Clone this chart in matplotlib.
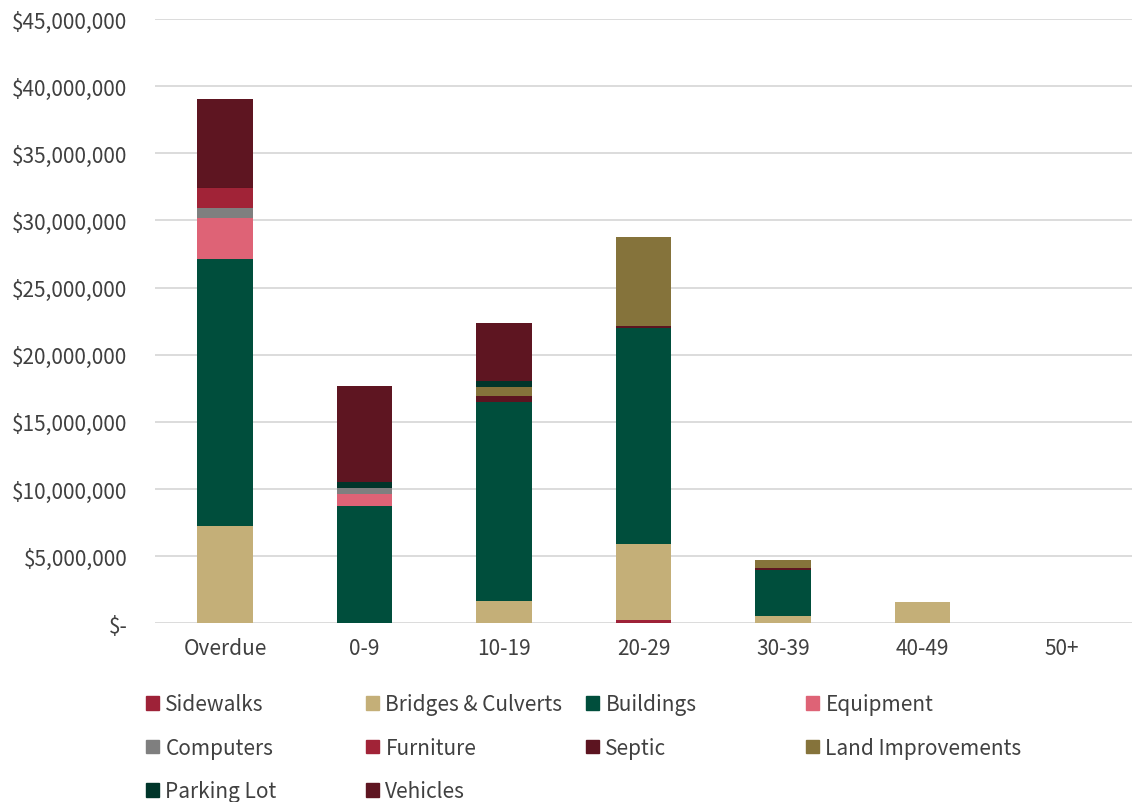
import matplotlib.pyplot as plt
from matplotlib.patches import Patch
from matplotlib.ticker import FuncFormatter
import numpy as np

plt.rcParams["font.family"] = ["Noto Sans CJK JP", "DejaVu Sans"]

categories = ["Overdue", "0-9", "10-19", "20-29", "30-39", "40-49", "50+"]

# values in $ millions, per category
sidewalks = [0.0, 0.0, 0.0, 0.22, 0.0, 0.0, 0.0]
bridges = [7.23, 0.0, 1.64, 5.67, 0.52, 1.56, 0.0]
buildings = [19.9, 8.72, 14.83, 16.1, 3.43, 0.0, 0.0]
equipment = [3.06, 0.89, 0.0, 0.0, 0.0, 0.0, 0.0]
computers = [0.74, 0.45, 0.0, 0.0, 0.0, 0.0, 0.0]
furniture = [1.49, 0.0, 0.05, 0.0, 0.0, 0.0, 0.0]
septic = [0.07, 0.0, 0.40, 0.15, 0.15, 0.0, 0.0]
land_improvements = [0.0, 0.0, 0.67, 6.63, 0.60, 0.0, 0.0]
parking_lot = [0.0, 0.45, 0.45, 0.0, 0.0, 0.0, 0.0]
vehicles = [6.56, 7.15, 4.32, 0.0, 0.0, 0.0, 0.0]

series = [
    ("Sidewalks", sidewalks, "#9e2238"),
    ("Bridges & Culverts", bridges, "#c4af78"),
    ("Buildings", buildings, "#004e3c"),
    ("Equipment", equipment, "#de6376"),
    ("Computers", computers, "#7f7f7f"),
    ("Furniture", furniture, "#a12337"),
    ("Septic", septic, "#5c1420"),
    ("Land Improvements", land_improvements, "#85733b"),
    ("Parking Lot", parking_lot, "#00352a"),
    ("Vehicles", vehicles, "#5e1521"),
]

fig = plt.figure(figsize=(11.33, 8.03), dpi=100)
ax = fig.add_axes([0.137, 0.2225, 0.862, 0.7525])

x = np.arange(len(categories))
bottom = np.zeros(len(categories))
for name, vals, color in series:
    v = np.array(vals) * 1e6
    ax.bar(x, v, width=0.4, bottom=bottom, color=color, label=name, zorder=3)
    bottom += v

ax.set_ylim(0, 45e6)
ax.set_xlim(-0.5, len(categories) - 0.5)
ax.set_yticks(np.arange(0, 45e6 + 1, 5e6))


def money(val, pos):
    if val == 0:
        return "$-"
    return f"${val:,.0f}"


ax.yaxis.set_major_formatter(FuncFormatter(money))
ax.set_xticks(x)
ax.set_xticklabels(categories)
ax.grid(axis="y", color="#d9d9d9", linewidth=1.3, zorder=0)
for s in ax.spines.values():
    s.set_visible(False)
ax.tick_params(axis="both", length=0, labelsize=15, colors="#404040")
ax.tick_params(axis="x", pad=10)
ax.tick_params(axis="y", pad=20)

# legend: 4 columns, filled row by row, one legend per column
fig_w = 1133
col_x = [140, 360, 580, 800]
for c in range(4):
    idx = list(range(c, len(series), 4))
    hs = [Patch(color=series[i][2]) for i in idx]
    ls = [series[i][0] for i in idx]
    fig.legend(
        hs,
        ls,
        loc="upper left",
        bbox_to_anchor=(col_x[c] / fig_w, 0.143),
        frameon=False,
        fontsize=15,
        handlelength=0.62,
        handleheight=0.62,
        handletextpad=0.3,
        labelspacing=1.03,
        borderaxespad=0,
        borderpad=0.3,
        labelcolor="#404040",
    )

fig.savefig("out.png", dpi=100)
